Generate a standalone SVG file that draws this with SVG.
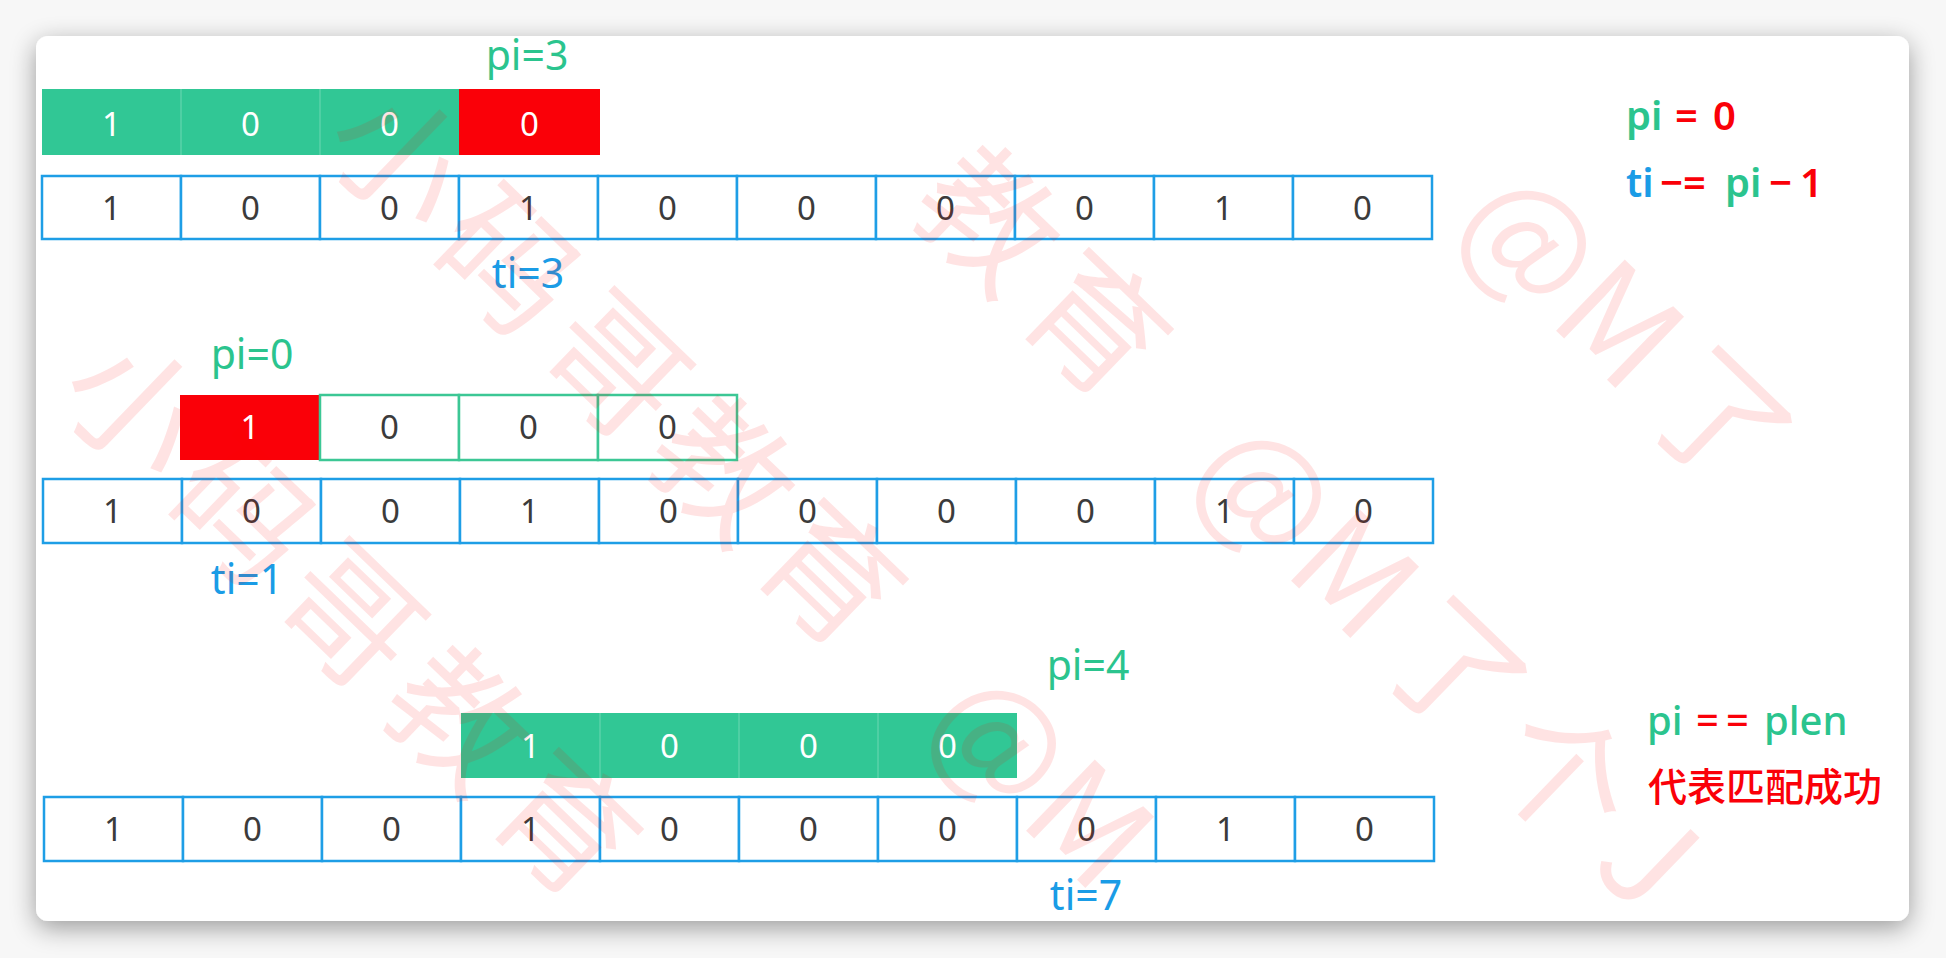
<svg xmlns="http://www.w3.org/2000/svg" width="1946" height="958" viewBox="0 0 1946 958">
<defs>
<style>
.cell{fill:#fff;stroke:#1E9EE6;stroke-width:2.5}
.pcell{fill:#fff;stroke:#3CC795;stroke-width:2.5}
.d{font-family:"Noto Sans","Liberation Sans",sans-serif;font-size:33px;fill:#3b3b3b;text-anchor:middle}
.dw{font-family:"Noto Sans","Liberation Sans",sans-serif;font-size:33px;fill:#fff;text-anchor:middle}
.lbl{font-family:"Noto Sans","Liberation Sans",sans-serif;font-size:41px;text-anchor:middle}
.eq{font-family:"Noto Sans","Liberation Sans",sans-serif;font-size:40px;font-weight:600}
.eq2{font-family:"Noto Sans","Liberation Sans",sans-serif;font-size:40px;font-weight:500}
.g{fill:#2BC48E}
.b{fill:#1A9CE6}
.r{fill:#FA0008}
.div{stroke:#fff;stroke-opacity:0.15;stroke-width:2}
.wm{font-family:"Noto Sans CJK SC","Noto Sans",sans-serif;font-size:135px;fill:#ff0000;fill-opacity:0.11}
</style>
<filter id="sh" x="-5%" y="-5%" width="110%" height="115%">
<feGaussianBlur in="SourceAlpha" stdDeviation="13"/>
<feOffset dy="7" result="o"/>
<feComponentTransfer><feFuncA type="linear" slope="0.38"/></feComponentTransfer>
<feMerge><feMergeNode/><feMergeNode in="SourceGraphic"/></feMerge>
</filter>
<clipPath id="cardclip"><rect x="36" y="36" width="1873" height="885" rx="12"/></clipPath>
</defs>
<rect width="1946" height="958" fill="#f7f7f7"/>
<rect id="card" x="36" y="36" width="1873" height="885" rx="12" fill="#fff" filter="url(#sh)"/>
<g clip-path="url(#cardclip)">

<g id="row1-pattern">
<rect x="42" y="89" width="417" height="66" fill="#31C795"/>
<rect x="459" y="89" width="141" height="66" fill="#FA0008"/>
<line class="div" x1="181" y1="89" x2="181" y2="155"/>
<line class="div" x1="320" y1="89" x2="320" y2="155"/>
<text class="dw" x="111.5" y="136">1</text>
<text class="dw" x="250.5" y="136">0</text>
<text class="dw" x="389.5" y="136">0</text>
<text class="dw" x="529.5" y="136">0</text>
</g>
<g id="row1-text">
<rect class="cell" x="42" y="176" width="139" height="63"/>
<rect class="cell" x="181" y="176" width="139" height="63"/>
<rect class="cell" x="320" y="176" width="139" height="63"/>
<rect class="cell" x="459" y="176" width="139" height="63"/>
<rect class="cell" x="598" y="176" width="139" height="63"/>
<rect class="cell" x="737" y="176" width="139" height="63"/>
<rect class="cell" x="876" y="176" width="139" height="63"/>
<rect class="cell" x="1015" y="176" width="139" height="63"/>
<rect class="cell" x="1154" y="176" width="139" height="63"/>
<rect class="cell" x="1293" y="176" width="139" height="63"/>
<text class="d" x="111.5" y="220">1</text>
<text class="d" x="250.5" y="220">0</text>
<text class="d" x="389.5" y="220">0</text>
<text class="d" x="528.5" y="220">1</text>
<text class="d" x="667.5" y="220">0</text>
<text class="d" x="806.5" y="220">0</text>
<text class="d" x="945.5" y="220">0</text>
<text class="d" x="1084.5" y="220">0</text>
<text class="d" x="1223.5" y="220">1</text>
<text class="d" x="1362.5" y="220">0</text>
</g>
<g id="row1-labels">
<text class="lbl g" x="527" y="70">pi=3</text>
<text class="lbl b" x="528" y="288">ti=3</text>
</g>

<g id="row2-pattern">
<rect x="180" y="395" width="140" height="65" fill="#FA0008"/>
<rect class="pcell" x="320" y="395" width="139" height="65"/>
<rect class="pcell" x="459" y="395" width="139" height="65"/>
<rect class="pcell" x="598" y="395" width="139" height="65"/>
<text class="dw" x="250" y="439">1</text>
<text class="d" x="389.5" y="439">0</text>
<text class="d" x="528.5" y="439">0</text>
<text class="d" x="667.5" y="439">0</text>
</g>
<g id="row2-text">
<rect class="cell" x="43" y="479" width="139" height="64"/>
<rect class="cell" x="182" y="479" width="139" height="64"/>
<rect class="cell" x="321" y="479" width="139" height="64"/>
<rect class="cell" x="460" y="479" width="139" height="64"/>
<rect class="cell" x="599" y="479" width="139" height="64"/>
<rect class="cell" x="738" y="479" width="139" height="64"/>
<rect class="cell" x="877" y="479" width="139" height="64"/>
<rect class="cell" x="1016" y="479" width="139" height="64"/>
<rect class="cell" x="1155" y="479" width="139" height="64"/>
<rect class="cell" x="1294" y="479" width="139" height="64"/>
<text class="d" x="112.5" y="523">1</text>
<text class="d" x="251.5" y="523">0</text>
<text class="d" x="390.5" y="523">0</text>
<text class="d" x="529.5" y="523">1</text>
<text class="d" x="668.5" y="523">0</text>
<text class="d" x="807.5" y="523">0</text>
<text class="d" x="946.5" y="523">0</text>
<text class="d" x="1085.5" y="523">0</text>
<text class="d" x="1224.5" y="523">1</text>
<text class="d" x="1363.5" y="523">0</text>
</g>
<g id="row2-labels">
<text class="lbl g" x="252" y="369">pi=0</text>
<text class="lbl b" x="247" y="594">ti=1</text>
</g>

<g id="row3-pattern">
<rect x="461" y="713" width="556" height="65" fill="#31C795"/>
<line class="div" x1="600" y1="713" x2="600" y2="778"/>
<line class="div" x1="739" y1="713" x2="739" y2="778"/>
<line class="div" x1="878" y1="713" x2="878" y2="778"/>
<text class="dw" x="530.5" y="758">1</text>
<text class="dw" x="669.5" y="758">0</text>
<text class="dw" x="808.5" y="758">0</text>
<text class="dw" x="947.5" y="758">0</text>
</g>
<g id="row3-text">
<rect class="cell" x="44" y="797" width="139" height="64"/>
<rect class="cell" x="183" y="797" width="139" height="64"/>
<rect class="cell" x="322" y="797" width="139" height="64"/>
<rect class="cell" x="461" y="797" width="139" height="64"/>
<rect class="cell" x="600" y="797" width="139" height="64"/>
<rect class="cell" x="739" y="797" width="139" height="64"/>
<rect class="cell" x="878" y="797" width="139" height="64"/>
<rect class="cell" x="1017" y="797" width="139" height="64"/>
<rect class="cell" x="1156" y="797" width="139" height="64"/>
<rect class="cell" x="1295" y="797" width="139" height="64"/>
<text class="d" x="113.5" y="841">1</text>
<text class="d" x="252.5" y="841">0</text>
<text class="d" x="391.5" y="841">0</text>
<text class="d" x="530.5" y="841">1</text>
<text class="d" x="669.5" y="841">0</text>
<text class="d" x="808.5" y="841">0</text>
<text class="d" x="947.5" y="841">0</text>
<text class="d" x="1086.5" y="841">0</text>
<text class="d" x="1225.5" y="841">1</text>
<text class="d" x="1364.5" y="841">0</text>
</g>
<g id="row3-labels">
<text class="lbl g" x="1088" y="680">pi=4</text>
<text class="lbl b" x="1086" y="910">ti=7</text>
</g>

<g id="note1">
<text class="eq" y="130"><tspan class="g" x="1626">pi</tspan><tspan class="r" x="1675">=</tspan><tspan class="r" x="1713">0</tspan></text>
<text class="eq" y="197"><tspan class="b" x="1626">ti</tspan><tspan class="r" x="1660">−=</tspan><tspan class="g" x="1725">pi</tspan><tspan class="r" x="1769">−</tspan><tspan class="r" x="1800">1</tspan></text>
</g>
<g id="note2">
<text class="eq2" y="735"><tspan class="g" x="1647">pi</tspan><tspan class="r" x="1696">=</tspan><tspan class="r" x="1726">=</tspan><tspan class="g" x="1764">plen</tspan></text>
<text x="1648" y="801" font-family="'Noto Sans CJK SC',sans-serif" font-size="39" font-weight="500" fill="#FA0008">代表匹配成功</text>
</g>

<g id="watermark">
<g transform="translate(52,396) rotate(44)">
<text class="wm" x="0">小</text><text class="wm" x="150">码</text><text class="wm" x="300">哥</text><text class="wm" x="450">教</text><text class="wm" x="600">育</text>
</g>
<g transform="translate(317,146) rotate(44)">
<text class="wm" x="0">小</text><text class="wm" x="150">码</text><text class="wm" x="300">哥</text><text class="wm" x="450">教</text><text class="wm" x="600">育</text><text class="wm" x="840">@</text><text class="wm" x="972">M</text>
</g>
<g transform="translate(582,-104) rotate(44)">
<text class="wm" x="450">教</text><text class="wm" x="600">育</text><text class="wm" x="840">@</text><text class="wm" x="972">M</text><text class="wm" x="1099">了</text><text class="wm" x="1249">个</text><text class="wm" x="1399">J</text>
</g>
<g transform="translate(847,-354) rotate(44)">
<text class="wm" x="840">@</text><text class="wm" x="972">M</text><text class="wm" x="1099">了</text>
</g>
</g>
</g>
</svg>
